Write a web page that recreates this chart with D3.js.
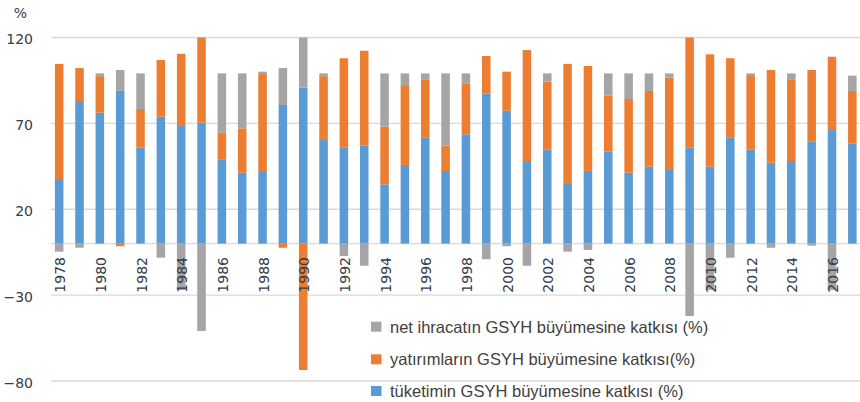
<!DOCTYPE html>
<html>
<head>
<meta charset="utf-8">
<script src="https://cdn.jsdelivr.net/npm/d3@7"></script>
<style>
  body { margin: 0; background: #fff; }
  .tickLb { font-family: "DejaVu Sans", sans-serif; font-size: 14px; fill: #343b4a; }
  .legLb { font-family: "Liberation Sans", Arial, sans-serif; font-size: 16.5px; fill: #404040; }
</style>
</head>
<body>
<div id="main"></div>
<script>
// years on the x axis
var years = [1978, 1979, 1980, 1981, 1982, 1983, 1984, 1985, 1986, 1987,
             1988, 1989, 1990, 1991, 1992, 1993, 1994, 1995, 1996, 1997,
             1998, 1999, 2000, 2001, 2002, 2003, 2004, 2005, 2006, 2007,
             2008, 2009, 2010, 2011, 2012, 2013, 2014, 2015, 2016, 2017];
// tüketim (consumption) contribution, %
var tuketim = [37.6, 83.0, 76.2, 88.9, 55.8, 73.9, 68.5, 70.4, 49.1, 41.3,
               42.3, 80.7, 90.8, 60.3, 56.1, 57.0, 34.5, 45.8, 61.9, 42.3,
               63.6, 87.5, 77.4, 48.1, 54.9, 34.7, 42.3, 53.5, 41.3, 44.8,
               43.4, 55.8, 44.8, 61.9, 54.9, 47.1, 48.1, 59.3, 66.1, 58.4];
// yatırım (investment) contribution, %
var yatirim = [67.0, 19.2, 21.3, -1.5, 22.6, 33.0, 42.0, 80.5, 15.7, 25.8,
               56.4, -2.4, -73.6, 37.2, 51.8, 55.3, 33.6, 46.5, 33.8, 14.7,
               29.7, 21.7, 22.7, 64.6, 39.4, 69.9, 61.1, 32.6, 42.9, 44.1,
               53.2, 86.4, 65.4, 46.0, 42.7, 54.0, 47.2, 41.8, 42.7, 30.5];
// net ihracat (net exports) contribution, %
var netIhracat = [-4.7, -2.4, 1.6, 12.2, 20.7, -8.2, -27.0, -50.9, 34.3, 32.0,
                  1.4, 21.5, 83.0, 1.6, -7.2, -12.9, 31.0, 6.8, 3.4, 42.1,
                  5.8, -9.1, -1.5, -12.9, 4.8, -4.7, -3.7, 13.0, 14.9, 10.2,
                  2.5, -42.2, -27.0, -8.2, 1.5, -2.4, 3.8, -1.2, -27.0, 8.9];
var yTicks = [-80, -30, 20, 70, 120];
var xLabelYears = years.filter(function(y){ return y % 2 == 0; });
var seriesKeys = ["tuketim", "yatirim", "netIhracat"];
var seriesNames = {
    netIhracat: "net ihracatın GSYH büyümesine katkısı (%)",
    yatirim: "yatırımların GSYH büyümesine katkısı(%)",
    tuketim: "tüketimin GSYH büyümesine katkısı (%)"
};
var seriesColors = {tuketim: "#5b9bd5", yatirim: "#ed7d31", netIhracat: "#a5a5a5"};

var ctx = {
    w: 860,
    h: 402,
    left: 51,
    right: 860,
};

var initSVGcanvas = function(){
    // x: one band per year
    ctx.xScale = d3.scaleBand().domain(years)
                               .range([49, 862.5])
                               .paddingInner(0.58)
                               .paddingOuter(0.29);
    ctx.yScale = d3.scaleLinear().domain([-80, 120])
                                 .range([381, 37.5]);
    var bkg = d3.select("#bkgG");
    // gridlines
    bkg.selectAll("line.grid")
       .data(yTicks.concat([0]))
       .enter().append("line")
       .attr("x1", ctx.left).attr("x2", ctx.right)
       .attr("y1", function(d){ return ctx.yScale(d); })
       .attr("y2", function(d){ return ctx.yScale(d); })
       .attr("stroke", "#d9d9d9")
       .attr("stroke-width", 1.3);
    // y-axis labels
    var yAxis = bkg.append("g")
      .attr("transform", `translate(${ctx.left},0)`)
      .call(d3.axisLeft(ctx.yScale).tickValues(yTicks).tickSize(0).tickPadding(18)
              .tickFormat(function(d){ return d < 0 ? "\u2212" + Math.abs(d) : d; }));
    yAxis.select(".domain").remove();
    yAxis.selectAll("text").attr("class", "tickLb").attr("dy", "0.45em")
         .attr("font-family", null).attr("font-size", null);
    // unit
    bkg.append("text")
       .attr("x", 20.5).attr("y", 18)
       .attr("text-anchor", "middle")
       .classed("tickLb", true)
       .text("%");
};

var populateSVGcanvas = function(){
    var rows = years.map(function(y, i){
        return {year: y, tuketim: tuketim[i], yatirim: yatirim[i], netIhracat: netIhracat[i]};
    });
    var stacked = d3.stack().keys(seriesKeys)
                    .offset(d3.stackOffsetDiverging)(rows);
    var svg = d3.select("svg");
    svg.append("defs").append("clipPath").attr("id", "plotClip")
       .append("rect").attr("x", 0).attr("y", ctx.yScale(120))
       .attr("width", ctx.w).attr("height", ctx.h);
    var barsG = d3.select("#rootG").append("g").attr("clip-path", "url(#plotClip)");
    barsG.selectAll("g.series")
      .data(stacked)
      .enter().append("g")
      .attr("fill", function(s){ return seriesColors[s.key]; })
      .selectAll("rect")
      .data(function(s){ return s; })
      .enter().append("rect")
      .attr("x", function(d){ return ctx.xScale(d.data.year); })
      .attr("width", ctx.xScale.bandwidth())
      .attr("y", function(d){ return ctx.yScale(Math.max(d[0], d[1])); })
      .attr("height", function(d){ return Math.abs(ctx.yScale(d[0]) - ctx.yScale(d[1])); });

    // x labels, rotated, every second year
    d3.select("#rootG").append("g").selectAll("text")
      .data(xLabelYears)
      .enter().append("text")
      .classed("tickLb", true)
      .attr("text-anchor", "end")
      .attr("dominant-baseline", "central")
      .attr("transform", function(d){
          var cx = ctx.xScale(d) + ctx.xScale.bandwidth()/2 + 1;
          return `translate(${cx},257) rotate(-90)`;
      })
      .text(function(d){ return d; });

    // legend
    var legOrder = ["netIhracat", "yatirim", "tuketim"];
    var legY = [326.7, 359.3, 391];
    var leg = d3.select("#rootG").append("g").selectAll("g")
      .data(legOrder)
      .enter().append("g")
      .attr("transform", function(d, i){ return `translate(371,${legY[i]})`; });
    leg.append("rect")
       .attr("x", 0).attr("y", -5).attr("width", 10.5).attr("height", 10)
       .attr("fill", function(d){ return seriesColors[d]; });
    leg.append("text")
       .classed("legLb", true)
       .attr("x", 19).attr("y", 0)
       .attr("dominant-baseline", "central")
       .text(function(d){ return seriesNames[d]; });
};

var createViz = function(){
    var svgEl = d3.select("#main").append("svg");
    svgEl.attr("width", ctx.w);
    svgEl.attr("height", ctx.h);
    var rootG = svgEl.append("g").attr("id", "rootG");
    rootG.append("g").attr("id", "bkgG");
    initSVGcanvas();
    populateSVGcanvas();
};

createViz();
</script>
</body>
</html>
